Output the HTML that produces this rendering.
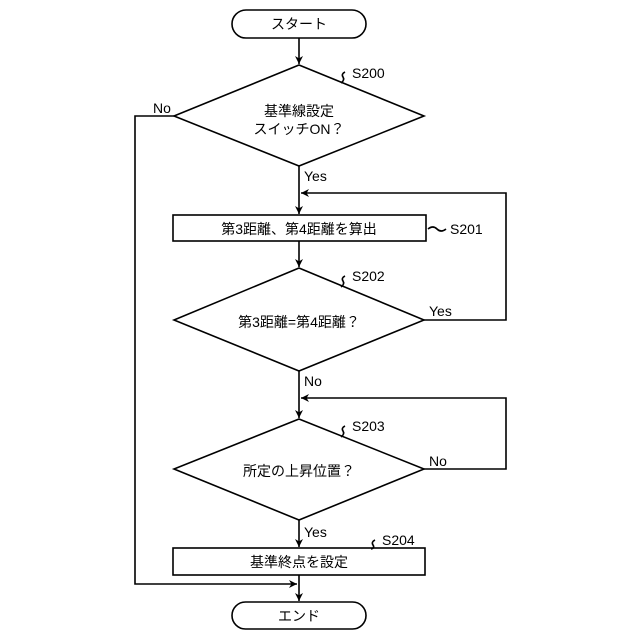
<!DOCTYPE html>
<html><head><meta charset="utf-8"><style>body{margin:0;background:#fff}svg{display:block}text{font-family:"Liberation Sans","Noto Sans CJK JP",sans-serif;fill:#000}</style></head><body>
<svg width="640" height="640" viewBox="0 0 640 640" xmlns="http://www.w3.org/2000/svg">
<defs><marker id="a" viewBox="0 0 10 10" refX="10" refY="5" markerWidth="8" markerHeight="8" orient="auto-start-reverse" markerUnits="userSpaceOnUse"><path d="M0,0 L10,5 L0,10 L3,5 Z" fill="#000"/></marker></defs>
<g fill="none" stroke="#000" stroke-width="1.6">
<rect x="232" y="10" width="134" height="28" rx="14"/>
<rect x="232" y="602" width="134" height="27" rx="13.5"/>
<polygon points="299,65 424,116 299,166 174,116"/>
<rect x="173" y="215" width="253" height="26"/>
<polygon points="299,268 424,320 299,371 174,320"/>
<polygon points="299,419 424,469 299,520 174,469"/>
<rect x="173" y="548" width="252" height="27"/>
<line x1="299" y1="38" x2="299" y2="64" marker-end="url(#a)"/>
<line x1="299" y1="166" x2="299" y2="214" marker-end="url(#a)"/>
<line x1="299" y1="241" x2="299" y2="267" marker-end="url(#a)"/>
<line x1="299" y1="371" x2="299" y2="418" marker-end="url(#a)"/>
<line x1="299" y1="520" x2="299" y2="547" marker-end="url(#a)"/>
<line x1="299" y1="575" x2="299" y2="601" marker-end="url(#a)"/>
<polyline points="424,320 506,320 506,193 301,193" marker-end="url(#a)"/>
<polyline points="424,469 506,469 506,398 301,398" marker-end="url(#a)"/>
<polyline points="174,116 135,116 135,584 297,584" marker-end="url(#a)"/>
<path d="M345,72 q-4,2 -2,5 q2,3 -2,6"/>
<path d="M428,229 q5,-4 9,0 q4,4 9,0"/>
<path d="M345,276 q-4,2 -2,5 q2,3 -2,6"/>
<path d="M345,426 q-4,2 -2,5 q2,3 -2,6"/>
<path d="M375,540 q-4,2 -2,5 q2,3 -2,4"/>
</g>
<g font-size="14">
<text x="299" y="29" text-anchor="middle">スタート</text>
<text x="299" y="621" text-anchor="middle">エンド</text>
<text x="299" y="116" text-anchor="middle">基準線設定</text>
<text x="299" y="134" text-anchor="middle">スイッチON？</text>
<text x="299" y="234" text-anchor="middle">第3距離、第4距離を算出</text>
<text x="299" y="327" text-anchor="middle">第3距離=第4距離？</text>
<text x="299" y="476" text-anchor="middle">所定の上昇位置？</text>
<text x="299" y="567" text-anchor="middle">基準終点を設定</text>
<text x="352" y="78">S200</text>
<text x="450" y="234">S201</text>
<text x="352" y="281">S202</text>
<text x="352" y="431">S203</text>
<text x="382" y="545">S204</text>
<text x="153" y="113">No</text>
<text x="304" y="181">Yes</text>
<text x="429" y="316">Yes</text>
<text x="304" y="386">No</text>
<text x="429" y="466">No</text>
<text x="304" y="537">Yes</text>
</g>
</svg>
</body></html>
